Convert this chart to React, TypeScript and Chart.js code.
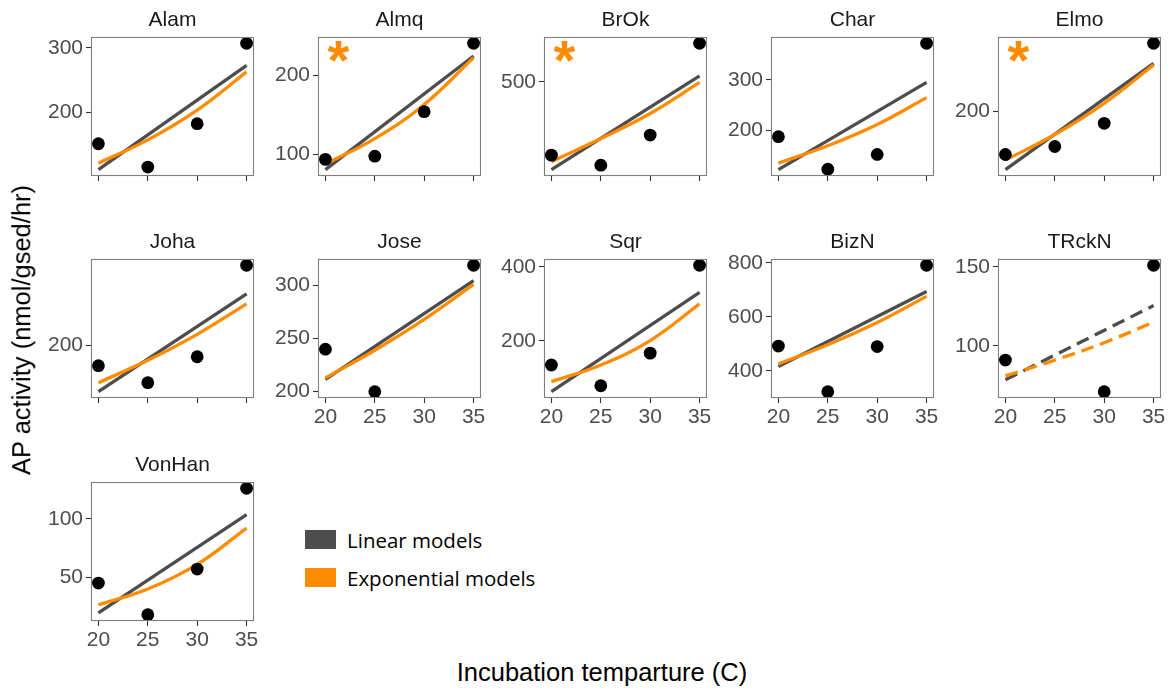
import React, { useEffect, useRef } from 'react';
import { Chart, registerables } from 'chart.js';
Chart.register(...registerables);

// ---------------- data ----------------
const SITES = ['Alam', 'Almq', 'BrOk', 'Char', 'Elmo', 'Joha', 'Jose', 'Sqr', 'BizN', 'TRckN', 'VonHan'];
const TEMPS = [20, 25, 30, 35];
const LINE_TEMPS = [20, 35];
const X_TICKS = [20, 25, 30, 35];

// observed AP activity at 20, 25, 30, 35 C (null = missing)
const OBSERVED: (number | null)[][] = [
  [152, 116, 183, 307],
  [94, 98, 154, 240],
  [354, 334, 394, 577],
  [188, 124, 153, 372],
  [146, 156, 185, 285],
  [177, 158, 187, 289],
  [240, 200, null, 319],
  [135, 79, 167, 404],
  [492, 323, 490, 791],
  [91, null, 71, 151],
  [45, 18, 57, 126],
];

// linear model prediction at 20 and 35 C
const LINEAR_FIT = [
  [112, 273],
  [81, 224],
  [325, 512],
  [123, 295],
  [127, 260],
  [148, 257],
  [211.5, 304.5],
  [63, 331],
  [416, 694],
  [78.5, 125.5],
  [19.5, 103.5],
];

// exponential model prediction at 20, 25, 30, 35 C
const EXP_FIT = [
  [122, 158, 204, 263],
  [88, 120, 163, 222],
  [341, 387, 437, 499],
  [136, 170, 212, 265],
  [139, 171, 210, 258],
  [158, 183, 212, 246],
  [213, 239, 268, 301],
  [90, 135, 201, 300],
  [426, 497, 579, 676],
  [81, 91, 102, 115],
  [26.5, 40, 61, 92],
];

const Y_TICKS = [
  [200, 300],
  [100, 200],
  [500],
  [200, 300],
  [200],
  [200],
  [200, 250, 300],
  [200, 400],
  [400, 600, 800],
  [100, 150],
  [50, 100],
];

const SIGNIFICANT = [false, true, true, false, true, false, false, false, false, false, false];
const DASHED = [false, false, false, false, false, false, false, false, false, true, false];
const X_LABELLED = [false, false, false, false, false, false, true, true, true, true, true];

const LEGEND_LABELS = ['Linear models', 'Exponential models'];
const Y_TITLE = 'AP activity (nmol/gsed/hr)';
const X_TITLE = 'Incubation temparture (C)';

// ---------------- style / layout ----------------
const LINEAR_COLOR = '#4d4d4d';
const EXP_COLOR = '#ff8c00';
const PANEL_LEFTS = [91, 318, 544, 771, 998];
const PANEL_TOPS = [37, 259, 482];
const PLOT_W = 163;
const PLOT_H = 139;
const YAXIS_W = 70;
const TITLE_H = 37;
const XAXIS_H = 40;
const RIGHT_PAD = 16;
const FONT = "'Liberation Sans', Arial, sans-serif";

const panelDecor = {
  id: 'panelDecor',
  afterDraw(chart: any, _a: any, opts: any) {
    const { ctx, chartArea } = chart;
    const { left, top, right, bottom } = chartArea;
    ctx.save();
    ctx.strokeStyle = '#7f7f7f';
    ctx.lineWidth = 1.1;
    ctx.strokeRect(Math.round(left) + 0.5, Math.round(top) + 0.5, Math.round(right - left) - 1, Math.round(bottom - top) - 1);
    ctx.fillStyle = '#1a1a1a';
    ctx.font = `21px ${FONT}`;
    ctx.textAlign = 'center';
    ctx.textBaseline = 'middle';
    ctx.fillText(opts.title, (left + right) / 2, top - 17);
    if (opts.star) {
      ctx.fillStyle = EXP_COLOR;
      ctx.font = `bold 56px ${FONT}`;
      ctx.textBaseline = 'alphabetic';
      const m = ctx.measureText('*');
      const cy = top + 14;
      const baseline = cy + (m.actualBoundingBoxAscent - m.actualBoundingBoxDescent) / 2;
      ctx.fillText('*', left + 20.5, baseline);
    }
    ctx.restore();
  },
};

function Panel({ i }: { i: number }) {
  const ref = useRef<HTMLCanvasElement>(null);
  const row = Math.floor(i / 5);
  const col = i % 5;
  const cw = YAXIS_W + PLOT_W + RIGHT_PAD;
  const ch = TITLE_H + PLOT_H + XAXIS_H;
  useEffect(() => {
    const obs = OBSERVED[i];
    const lin = LINEAR_FIT[i];
    const ex = EXP_FIT[i];
    const vals = [...(obs.filter((v) => v !== null) as number[]), ...lin, ...ex];
    const lo = Math.min(...vals);
    const hi = Math.max(...vals);
    const pad = (hi - lo) * 0.05;
    const xpad = (X_TICKS[X_TICKS.length - 1] - X_TICKS[0]) * 0.05;
    const dash = DASHED[i] ? [13, 7] : [];
    const showX = X_LABELLED[i];
    const yt = Y_TICKS[i];
    const tickFont = { family: FONT, size: 21 };
    const grid = {
      display: true,
      drawOnChartArea: false,
      drawTicks: true,
      tickLength: 5,
      tickColor: '#333333',
      tickWidth: 1.1,
    };
    const chart = new Chart(ref.current as HTMLCanvasElement, {
      type: 'scatter',
      data: {
        datasets: [
          {
            type: 'scatter',
            data: TEMPS.map((t, k) => ({ x: t, y: obs[k] })).filter((p) => p.y !== null) as any,
            pointRadius: 6.4,
            pointBackgroundColor: '#000000',
            pointBorderWidth: 0,
            order: 0,
            clip: false,
          } as any,
          {
            type: 'line',
            data: LINE_TEMPS.map((t, k) => ({ x: t, y: lin[k] })),
            borderColor: LINEAR_COLOR,
            borderWidth: 3.3,
            pointRadius: 0,
            borderDash: dash,
            fill: false,
            order: 2,
          } as any,
          {
            type: 'line',
            data: TEMPS.map((t, k) => ({ x: t, y: ex[k] })),
            borderColor: EXP_COLOR,
            borderWidth: 3.3,
            pointRadius: 0,
            tension: 0.4,
            borderDash: dash,
            fill: false,
            order: 1,
          } as any,
        ],
      },
      options: {
        animation: false,
        responsive: false,
        events: [],
        layout: { padding: { top: TITLE_H, right: RIGHT_PAD, left: 0, bottom: 0 } },
        plugins: {
          legend: { display: false },
          tooltip: { enabled: false },
          title: { display: false },
          panelDecor: { title: SITES[i], star: SIGNIFICANT[i] },
        } as any,
        scales: {
          x: {
            type: 'linear',
            min: X_TICKS[0] - xpad,
            max: X_TICKS[X_TICKS.length - 1] + xpad,
            afterBuildTicks: (s: any) => {
              s.ticks = X_TICKS.map((v) => ({ value: v }));
            },
            afterFit: (s: any) => {
              s.height = XAXIS_H;
            },
            ticks: {
              callback: (v: any) => (showX ? String(v) : ''),
              font: tickFont,
              color: '#4d4d4d',
              padding: 2,
              maxRotation: 0,
              autoSkip: false,
            },
            grid,
            border: { display: false },
          },
          y: {
            type: 'linear',
            min: lo - pad,
            max: hi + pad,
            afterBuildTicks: (s: any) => {
              s.ticks = yt.map((v) => ({ value: v }));
            },
            afterFit: (s: any) => {
              s.width = YAXIS_W;
            },
            ticks: {
              font: tickFont,
              color: '#4d4d4d',
              padding: 3,
              autoSkip: false,
            },
            grid,
            border: { display: false },
          },
        },
      } as any,
      plugins: [panelDecor],
    });
    return () => chart.destroy();
  }, [i]);
  return (
    <canvas
      ref={ref}
      width={cw}
      height={ch}
      style={{
        position: 'absolute',
        left: PANEL_LEFTS[col] - YAXIS_W,
        top: PANEL_TOPS[row] - TITLE_H,
        width: cw,
        height: ch,
      }}
    />
  );
}

export default function App() {
  return (
    <div
      style={{
        position: 'absolute',
        left: 0,
        top: 0,
        width: 1172,
        height: 692,
        background: '#ffffff',
        overflow: 'hidden',
      }}
    >
      {SITES.map((_, i) => (
        <Panel key={i} i={i} />
      ))}
      <div
        style={{
          position: 'absolute',
          left: 22,
          top: 330,
          transform: 'translate(-50%, -50%) rotate(-90deg)',
          whiteSpace: 'nowrap',
          fontFamily: FONT,
          fontSize: 25.5,
          color: '#000',
          lineHeight: 1,
        }}
      >
        {Y_TITLE}
      </div>
      <div
        style={{
          position: 'absolute',
          left: 602,
          top: 673,
          transform: 'translate(-50%, -50%)',
          whiteSpace: 'nowrap',
          fontFamily: FONT,
          fontSize: 25.5,
          color: '#000',
          lineHeight: 1,
        }}
      >
        {X_TITLE}
      </div>
      {LEGEND_LABELS.map((lab, k) => (
        <div key={lab}>
          <div
            style={{
              position: 'absolute',
              left: 305,
              top: k === 0 ? 530 : 568,
              width: 31,
              height: 19,
              background: k === 0 ? LINEAR_COLOR : EXP_COLOR,
            }}
          />
          <div
            style={{
              position: 'absolute',
              left: 347,
              top: k === 0 ? 540 : 578,
              transform: 'translateY(-50%)',
              whiteSpace: 'nowrap',
              fontFamily: "'Open Sans', Lato, sans-serif",
              fontSize: 20.5,
              color: '#000',
              lineHeight: 1,
            }}
          >
            {lab}
          </div>
        </div>
      ))}
    </div>
  );
}
